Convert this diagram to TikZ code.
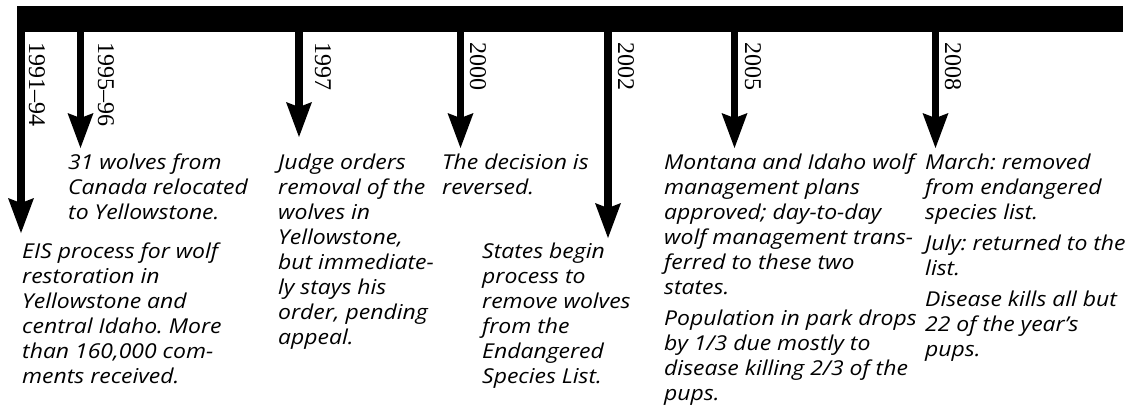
\documentclass[tikz,border=0pt]{standalone}
\usepackage{fontspec}
\setmainfont{Open Sans}
\newfontfamily\yearfont{Liberation Serif}
\newfontfamily\descfont{Open Sans}[FakeStretch=1.12]
\usetikzlibrary{arrows.meta}
\frenchspacing
\newcommand\LL[1]{\hbox{#1}}
\newcommand\PG{\vskip 6pt}
\newcommand\blk[1]{\vtop{\baselineskip=25pt\lineskiplimit=-30pt\relax #1}}
\tikzset{
  arr/.style={line width=7.5pt, -{Stealth[length=35pt,width=26pt,inset=5pt,line width=0pt]}},
  yr/.style={rotate=-90, anchor=base west, inner sep=0pt, font=\yearfont\fontsize{24}{24}\selectfont},
  desc/.style={anchor=base west, inner sep=0pt, font=\descfont\itshape\fontsize{20.5}{25}\selectfont},
}
\begin{document}
\begin{tikzpicture}[x=1pt,y=-1pt]
\useasboundingbox (0,0) rectangle (1134,410);
\node[fill=black, inner sep=0pt, minimum width=1106pt, minimum height=26pt] (bar) at (570,19) {};
% tips
\coordinate (t1) at (21,233);
\coordinate (t2) at (80.5,148);
\coordinate (t3) at (299,137);
\coordinate (t4) at (460.5,148);
\coordinate (t5) at (608,238);
\coordinate (t6) at (734.5,148);
\coordinate (t7) at (935.5,148);
\foreach \t in {t1,t2,t3,t4,t5,t6,t7}{
  \draw[arr] ([yshift=1pt]\t |- bar.south) -- (\t);
}
% years
\node[yr] (y1) at (29,42) {1991–94};
\node[yr] (y2) at (98,42) {1995–96};
\node[yr] (y3) at (315,42) {1997};
\node[yr] (y4) at (470,42) {2000};
\node[yr] (y5) at (618,42) {2002};
\node[yr] (y6) at (745,42) {2005};
\node[yr] (y7) at (945,42) {2008};
% descriptions
\node[desc] (d1) at (22,258) {\blk{\LL{EIS process for wolf}\LL{restoration in}\LL{Yellowstone and}\LL{central Idaho. More}\LL{than 160,000 com-}\LL{ments received.}}};
\node[desc] (d2) at (68,169) {\blk{\LL{31 wolves from}\LL{Canada relocated}\LL{to Yellowstone.}}};
\node[desc] (d3) at (278,169) {\blk{\LL{Judge orders}\LL{removal of the}\LL{wolves in}\LL{Yellowstone,}\LL{but immediate-}\LL{ly stays his}\LL{order, pending}\LL{appeal.}}};
\node[desc] (d4) at (442,169) {\blk{\LL{The decision is}\LL{reversed.}}};
\node[desc] (d5) at (482,258) {\blk{\LL{States begin}\LL{process to}\LL{remove wolves}\LL{from the}\LL{Endangered}\LL{Species List.}}};
\node[desc] (d6) at (664,169) {\blk{\LL{Montana and Idaho wolf}\LL{management plans}\LL{approved; day-to-day}\LL{wolf management trans-}\LL{ferred to these two}\LL{states.}\PG\LL{Population in park drops}\LL{by 1/3 due mostly to}\LL{disease killing 2/3 of the}\LL{pups.}}};
\node[desc] (d7) at (925,169) {\blk{\LL{March: removed}\LL{from endangered}\LL{species list.}\PG\LL{July: returned to the}\LL{list.}\PG\LL{Disease kills all but}\LL{22 of the year’s}\LL{pups.}}};
\end{tikzpicture}
\end{document}
